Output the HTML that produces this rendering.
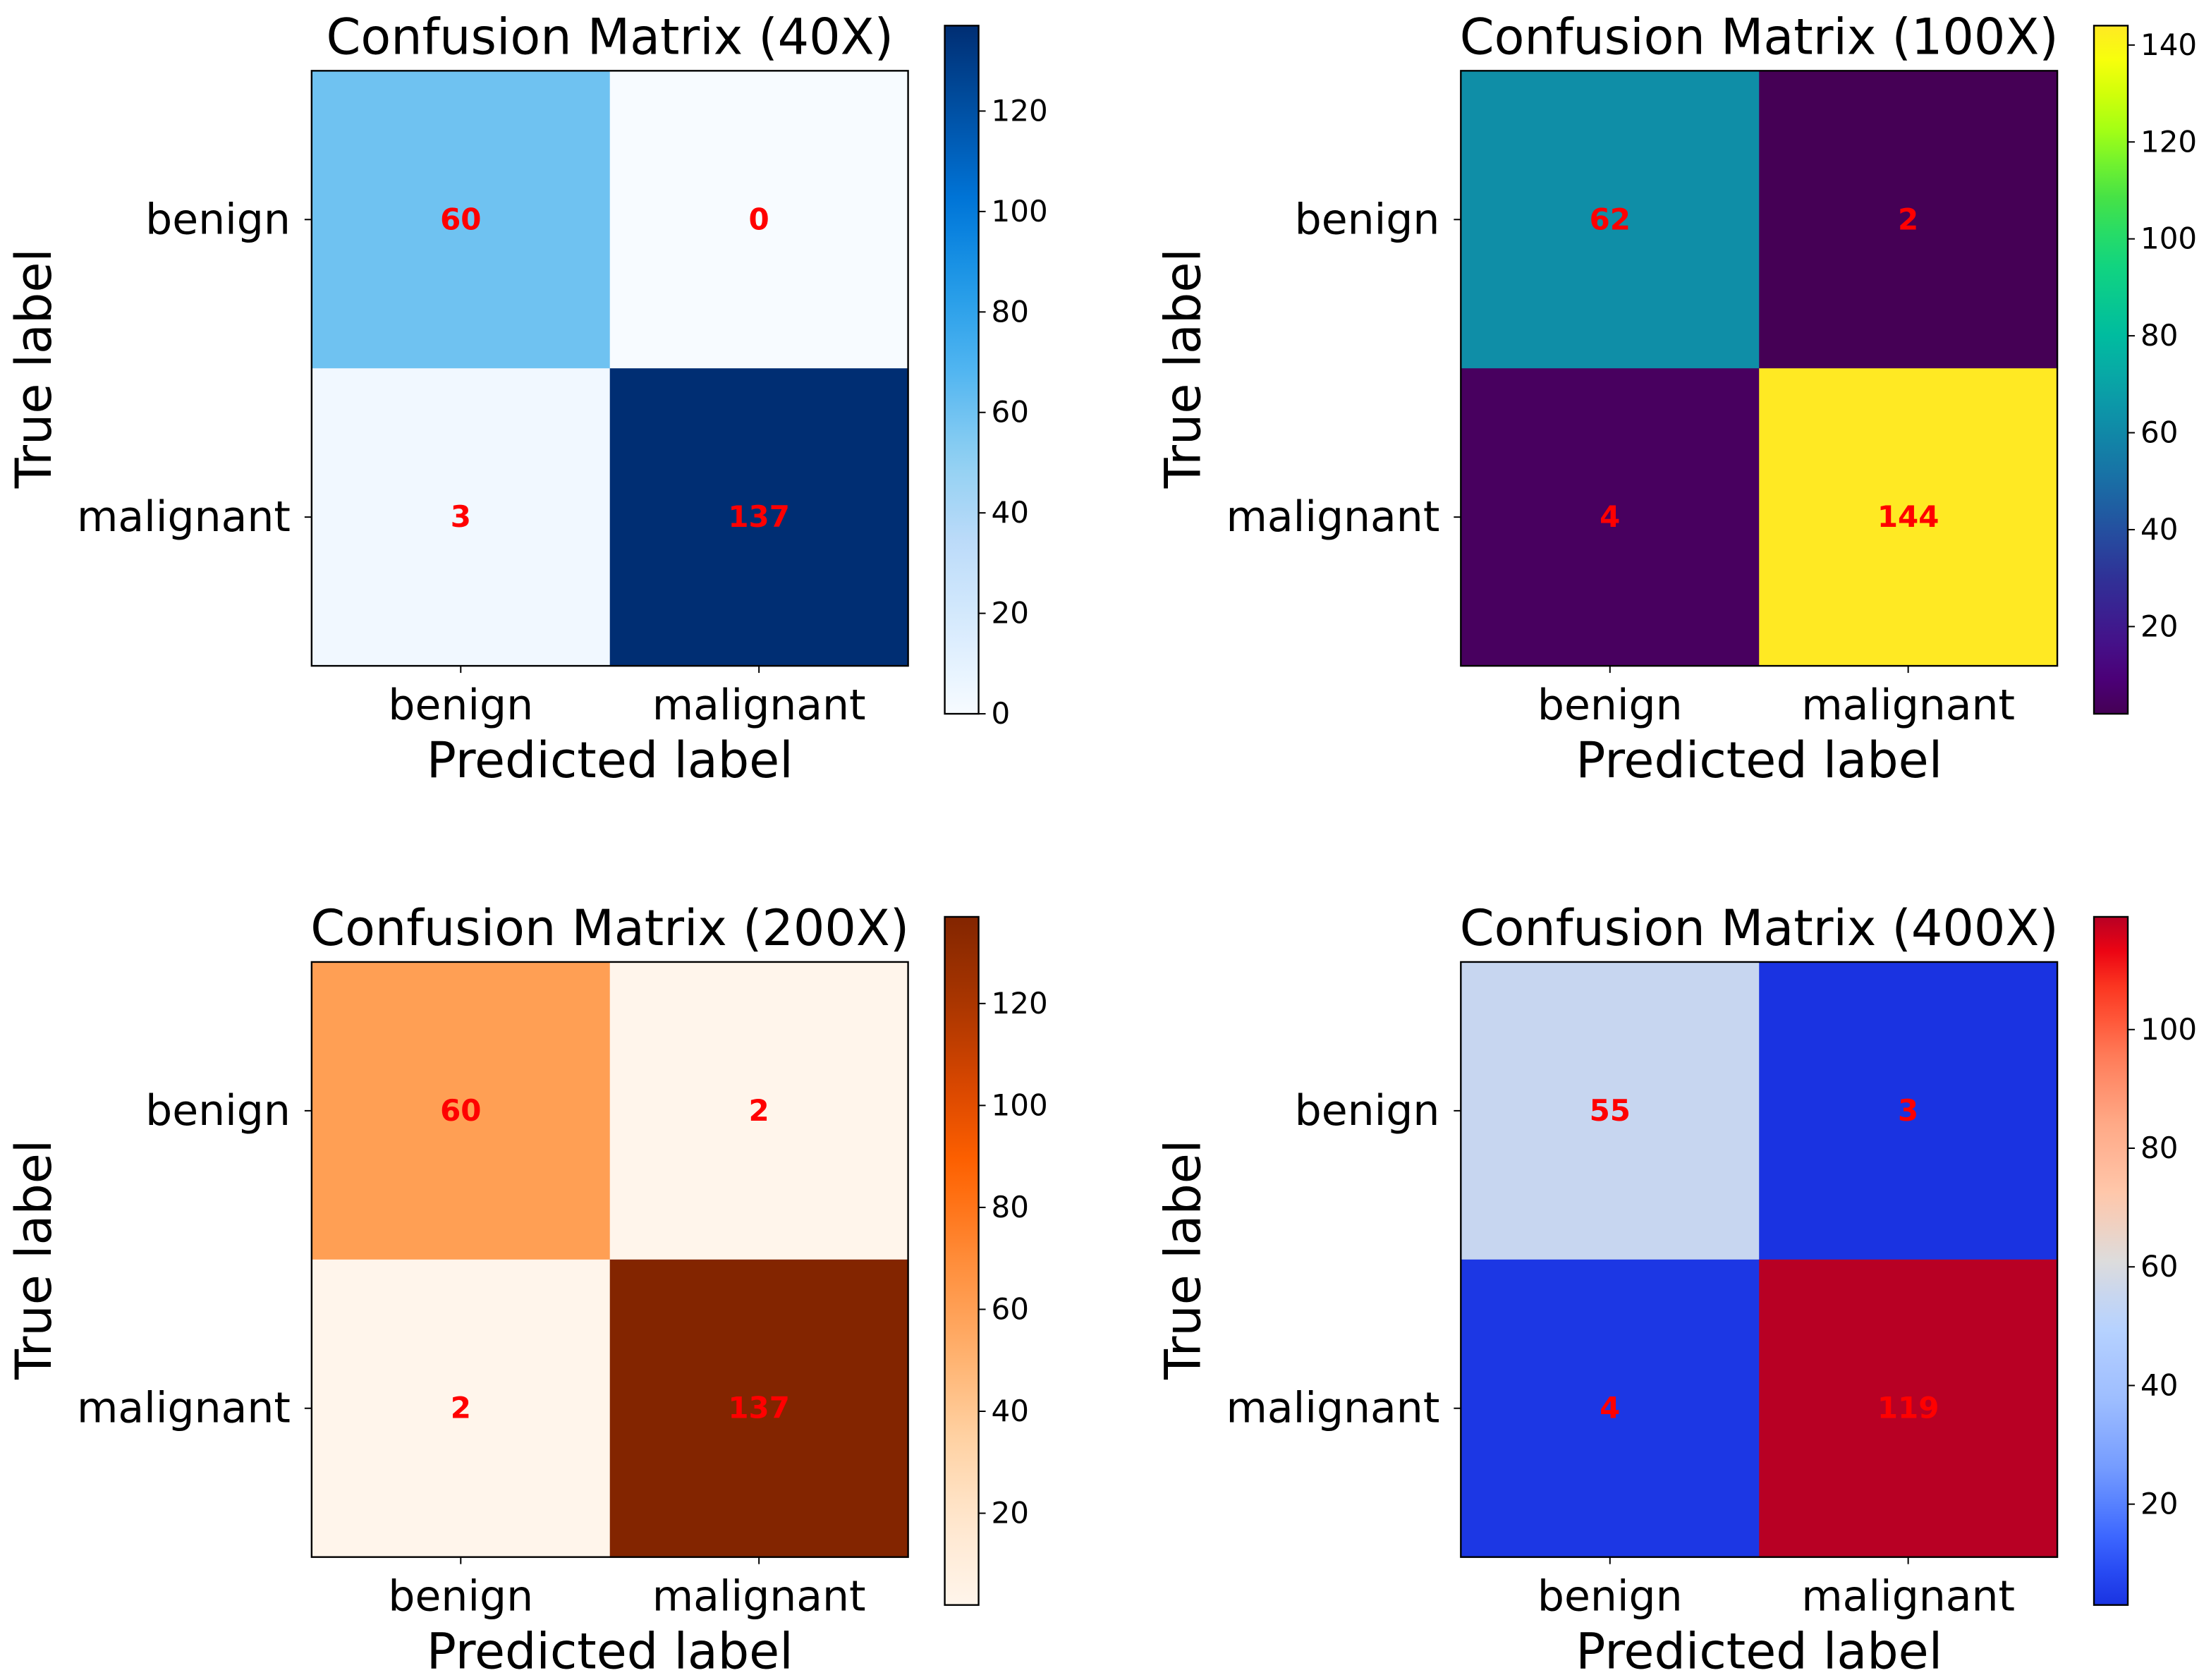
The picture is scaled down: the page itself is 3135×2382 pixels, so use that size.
<!DOCTYPE html>
<html><head><meta charset="utf-8">
<style>
html,body{margin:0;padding:0;background:#fff;}
svg{display:block;font-family:"DejaVu Sans","Liberation Sans",sans-serif;}
</style></head>
<body>
<svg id="fig" width="3135" height="2382" viewBox="0 0 1568 1191" xmlns="http://www.w3.org/2000/svg">
<defs id="defs"></defs>
</svg>
<script>
const titles = ["Confusion Matrix (40X)","Confusion Matrix (100X)","Confusion Matrix (200X)","Confusion Matrix (400X)"];
const classLabels = ["benign","malignant"];
const matrix40 = [[60,0],[3,137]];
const matrix100 = [[62,2],[4,144]];
const matrix200 = [[60,2],[2,137]];
const matrix400 = [[55,3],[4,119]];
const ticks40 = [0,20,40,60,80,100,120];
const ticks100 = [20,40,60,80,100,120,140];
const ticks200 = [20,40,60,80,100,120];
const ticks400 = [20,40,60,80,100];

const cmaps = {
 Blues:["#f7fbff","#deebf7","#c6dbef","#9ecae1","#6baed6","#4292c6","#2171b5","#08519c","#08306b"],
 viridis:["#440154","#482878","#3e4989","#31688e","#26828e","#1f9e89","#35b779","#6ece58","#b5de2b","#fde725"],
 Oranges:["#fff5eb","#fee6ce","#fdd0a2","#fdae6b","#fd8d3c","#f16913","#d94801","#a63603","#7f2704"],
 coolwarm:["#3b4cc0","#5977e3","#7b9ff9","#9ebeff","#c0d4f5","#dddcdc","#f2cbb7","#f7ac8e","#ee8468","#d65244","#b40426"]
};
const panels = [
 {m:matrix40,t:ticks40,cmap:"Blues",x:221,y:50},
 {m:matrix100,t:ticks100,cmap:"viridis",x:1036,y:50},
 {m:matrix200,t:ticks200,cmap:"Oranges",x:221,y:682},
 {m:matrix400,t:ticks400,cmap:"coolwarm",x:1036,y:682}
];
const NS="http://www.w3.org/2000/svg";
const svg=document.getElementById('fig');
const defs=document.getElementById('defs');
function hex(h){return [1,3,5].map(i=>parseInt(h.substr(i,2),16));}
function boost(rgb,k){
 let [r,g,b]=rgb.map(v=>v/255);
 const mx=Math.max(r,g,b),mn=Math.min(r,g,b);let h=0,s=0;const l=(mx+mn)/2;
 if(mx!==mn){const d=mx-mn;s=l>0.5?d/(2-mx-mn):d/(mx+mn);
  if(mx===r)h=(g-b)/d+(g<b?6:0);else if(mx===g)h=(b-r)/d+2;else h=(r-g)/d+4;h/=6;}
 s=Math.min(1,s*k);
 const q=l<0.5?l*(1+s):l+s-l*s,p=2*l-q;
 const f=t=>{if(t<0)t+=1;if(t>1)t-=1;if(t<1/6)return p+(q-p)*6*t;if(t<1/2)return q;if(t<2/3)return p+(q-p)*(2/3-t)*6;return p;};
 return [f(h+1/3),f(h),f(h-1/3)].map(v=>Math.round(v*255));
}
function cmapColor(stops,f){
 f=Math.max(0,Math.min(1,f));const p=f*(stops.length-1);const i=Math.min(Math.floor(p),stops.length-2);const t=p-i;
 const a=hex(stops[i]),b=hex(stops[i+1]);
 const c=boost(a.map((v,k)=>v+(b[k]-v)*t),1.5);
 return "rgb("+c.join(",")+")";
}
function el(tag,attrs,parent){const e=document.createElementNS(NS,tag);for(const k in attrs)e.setAttribute(k,attrs[k]);(parent||svg).appendChild(e);return e;}
function txt(s,attrs,parent){const e=el('text',attrs,parent);e.textContent=s;return e;}

const W=423,H=422,cbX=449,cbW=24,cbTop=-32,cbH=488;
panels.forEach((p,pi)=>{
 const g=el('g',{});
 
 
 const vals=p.m.flat();const vmin=Math.min(...vals),vmax=Math.max(...vals);
 const stops=cmaps[p.cmap];
 const cw=W/2,ch=H/2;
 const xs=c=>p.x+cw*c, ys=r=>p.y+ch*r;
 for(let r=0;r<2;r++)for(let c=0;c<2;c++){
  const v=p.m[r][c];
  const rc=el('rect',{x:xs(c),y:ys(r),width:cw+0.5,height:ch+0.5,fill:cmapColor(stops,(v-vmin)/(vmax-vmin))},g);
  
  
  const t=txt(String(v),{x:xs(c)+cw/2,y:ys(r)+ch/2+7,'text-anchor':'middle','font-size':21,'font-weight':'bold',fill:'#ff0000'},g);
  
  
 }
 el('rect',{x:p.x,y:p.y,width:W,height:H,fill:'none',stroke:'#000','stroke-width':1.2},g);
 classLabels.forEach((lab,i)=>{
  const cy=ys(i)+ch/2, cx=xs(i)+cw/2;
  el('line',{x1:p.x-5,x2:p.x,y1:cy,y2:cy,stroke:'#000'},g);
  const yl=txt(lab,{x:p.x-15,y:cy+10,'text-anchor':'end','font-size':30},g);
  
  
  el('line',{x1:cx,x2:cx,y1:p.y+H,y2:p.y+H+5,stroke:'#000'},g);
  const xl=txt(lab,{x:cx,y:p.y+H+38,'text-anchor':'middle','font-size':30},g);
  
  
 });
 const tt=txt(titles[pi],{x:p.x+W/2,y:p.y-12,'text-anchor':'middle','font-size':35},g);
 
 
 const xt=txt('Predicted label',{x:p.x+W/2,y:p.y+H+79,'text-anchor':'middle','font-size':35},g);
 
 
 const yt=txt('True label',{x:0,y:0,'text-anchor':'middle','font-size':35,transform:'translate('+(p.x-185)+','+(p.y+H/2)+') rotate(-90)'},g);
 
 
 const gid='grad'+pi;
 const lg=el('linearGradient',{id:gid,x1:0,y1:1,x2:0,y2:0},defs);
 for(let i=0;i<=20;i++)el('stop',{offset:i/20,'stop-color':cmapColor(stops,i/20)},lg);
 const bx=p.x+cbX, by=p.y+cbTop;
 const cb=el('rect',{x:bx,y:by,width:cbW,height:cbH,fill:'url(#'+gid+')',stroke:'#000','stroke-width':1.2},g);
 
 
 const cy=v=>by+cbH-(v-vmin)/(vmax-vmin)*cbH;
 p.t.forEach(v=>{
  const y=cy(v);
  el('line',{x1:bx+cbW,x2:bx+cbW+5,y1:y,y2:y,stroke:'#000'},g);
  const l=txt(String(v),{x:bx+cbW+9,y:y+7,'font-size':21},g);
  
  
 });
});
</script>
</body></html>
